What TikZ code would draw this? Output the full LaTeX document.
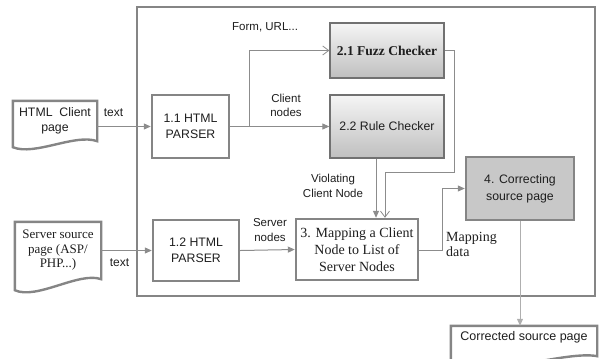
\documentclass[tikz,border=0pt]{standalone}
\usepackage{fontspec}
\setmainfont{Liberation Serif}
\setsansfont{Liberation Sans}
\usetikzlibrary{arrows.meta,calc}
\definecolor{bord}{HTML}{858585}
\definecolor{connc}{HTML}{8C8C8C}
\definecolor{txtc}{HTML}{1E1E1E}
\definecolor{corrfill}{HTML}{C8C8C8}
\begin{document}
\begin{tikzpicture}[x=1bp,y=-1bp,
  box/.style={draw=bord, line width=2.4bp, fill=white, align=center, inner sep=0pt, text=txtc,
    font={\sffamily\fontsize{12.3bp}{16.5bp}\selectfont}},
  serifbox/.style={box, font={\rmfamily\fontsize{14bp}{17bp}\selectfont}},
  chk/.style={draw=bord!85!black, line width=1.3bp, top color=gray!8, bottom color=gray!50,
    align=center, inner sep=0pt, text=txtc},
  doctext/.style={align=center, inner sep=0pt, text=txtc},
  docline/.style={draw=bord, line width=2.4bp, line join=miter},
  lab/.style={inner sep=0pt, align=center, text=txtc, font={\sffamily\fontsize{11.5bp}{14.5bp}\selectfont}},
  seriflab/.style={inner sep=0pt, align=left, text=txtc, font={\rmfamily\fontsize{14bp}{15bp}\selectfont}},
  conn/.style={draw=connc, line width=1bp},
  tip/.style={-{Triangle[width=6bp,length=7bp]}},
  otip/.style={-{Straight Barb[width=9bp,length=6bp,line width=0.8bp]}}
]
\useasboundingbox (0,0) rectangle (601,358);
\clip (0,0) rectangle (601,358);

% outer frame
\node (frame) [draw=bord, line width=2.4bp, minimum width=458bp, minimum height=289bp, inner sep=0pt] at (366,151.5) {};

% documents
\node (doc1) [doctext, minimum width=84bp, minimum height=40bp,
  font={\sffamily\fontsize{12.3bp}{15bp}\selectfont}] at (55,121) {HTML\ \ Client\\page};
\draw[docline] (doc1.north west) -- (doc1.north east) -- (doc1.south east)
  .. controls +(-22,-8) and +(22,9) .. ($(doc1.south west)+(0,6)$) -- cycle;

\node (doc2) [doctext, minimum width=86bp, minimum height=57bp,
  font={\rmfamily\fontsize{13bp}{14.5bp}\selectfont}] at (58,250.5) {Server source\\page (ASP/\\PHP...)};
\draw[docline] (doc2.north west) -- (doc2.north east) -- (doc2.south east)
  .. controls +(-22,-8) and +(22,10) .. ($(doc2.south west)+(0,11)$) -- cycle;

\node (doc3) [doctext, minimum width=146bp, minimum height=22bp,
  font={\sffamily\fontsize{12.5bp}{15bp}\selectfont}] at (524,337) {Corrected source page};
\draw[docline] (doc3.north west) -- (doc3.north east) -- ($(doc3.south east)+(0,8)$)
  .. controls +(-30,-6) and +(35,10) .. ($(doc3.south west)+(0,20)$) -- cycle;

% process boxes
\node (p11) [box, minimum width=77bp, minimum height=63bp] at (190.5,126.5) {1.1 HTML\\PARSER};
\node (p12) [box, minimum width=86bp, minimum height=61bp] at (196,250.5) {1.2 HTML\\PARSER};
\node (fuzz) [chk, minimum width=114bp, minimum height=55bp,
  font={\rmfamily\bfseries\fontsize{13.5bp}{16bp}\selectfont}] at (387,50.5) {2.1 Fuzz Checker};
\node (rule) [chk, minimum width=114bp, minimum height=63bp,
  font={\sffamily\fontsize{12.3bp}{16bp}\selectfont}] at (387,126.5) {2.2 Rule Checker};
\node (map) [serifbox, minimum width=122bp, minimum height=61bp] at (357,249.5)
  {3. Mapping a Client\\Node to List of\\Server Nodes};
\node (corr) [box, fill=corrfill, minimum width=108bp, minimum height=63bp,
  font={\sffamily\fontsize{12.3bp}{17bp}\selectfont}] at (520,188.5) {4. Correcting\\source page};

% junction coordinates
\coordinate (j1) at (249,126.5);
\coordinate (j2) at (385,172);
\coordinate (j3) at (376,158);
\coordinate (j4) at (442,250);

% connectors
\draw[conn, tip] (doc1.east |- p11.west) -- (p11.west);
\draw[conn] (p11.east) -- (j1);
\draw[conn, tip] (j1) -- (rule.west);
\draw[conn, otip] (j1) |- (fuzz.west);
\draw[conn, otip] (fuzz.east) -- ++(10,0) |- (j2) -- (j2 |- map.north);
\draw[conn, tip] (j3 |- rule.south) -- (j3 |- map.north);
\draw[conn, tip] (doc2.east |- p12.west) -- (p12.west);
\draw[conn, tip] (p12.east) -- (map.west);
\draw[conn, tip] (map.east |- j4) -- (j4) |- (corr.west);
\draw[conn, draw=connc!70, tip] (corr.south) -- (corr.south |- doc3.north);

% labels
\node (lt1) [lab, font={\sffamily\fontsize{12bp}{14.5bp}\selectfont}] at (113.5,113) {text};
\node (lt2) [lab, font={\sffamily\fontsize{12bp}{14.5bp}\selectfont}] at (119.5,263) {text};
\node (lform) [lab, anchor=west] at (232,27) {Form, URL...};
\node (lclient) [lab] at (286,105.5) {Client\\nodes};
\node (lviol) [lab] at (333,186) {Violating\\Client Node};
\node (lserv) [lab] at (270,230) {Server\\nodes};
\node (lmap) [seriflab, anchor=west] at (446,244.5) {Mapping\\data};
\end{tikzpicture}
\end{document}
